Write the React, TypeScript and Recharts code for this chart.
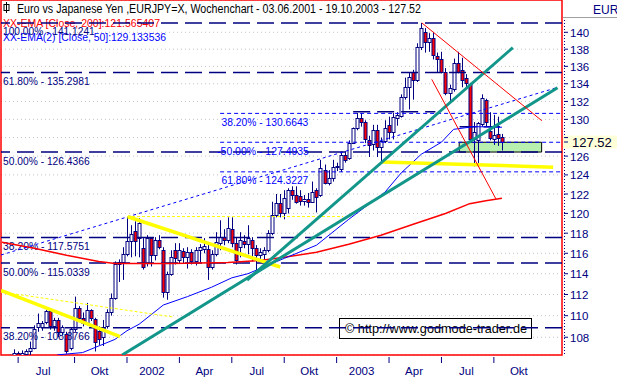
import React from 'react';
import {
  ComposedChart,
  Bar,
  Line,
  XAxis,
  YAxis,
  CartesianGrid,
  ReferenceLine,
  ReferenceArea,
} from 'recharts';

const NAVY = '#000080';
const BLUE = '#0000ff';
const RED = '#ff0000';
const TEAL = '#13968a';
const YELLOW = '#ffff00';
const FONT = '"Liberation Sans", Arial, sans-serif';

// EUR/JPY weekly candles from 03.06.2001: open, high, low, close
const ohlc: number[][] = [
  [105.5, 106.3, 104.8, 105.8], [105.8, 106.2, 104.9, 105.3], [105.3, 106.4, 104.7, 106.2],
  [106.2, 106.9, 105.6, 106.6], [106.6, 106.7, 105.4, 105.9], [105.9, 106.8, 105.6, 106.6],
  [106.5, 106.9, 105.9, 106.7], [106.7, 107.6, 106.1, 107.0], [107.0, 109.1, 106.9, 108.8],
  [108.9, 110.2, 108.5, 109.3], [108.9, 109.5, 108.6, 109.3], [109.4, 110.6, 109.2, 110.4],
  [110.4, 110.7, 108.7, 109.0], [109.0, 109.8, 108.6, 109.6], [109.6, 109.8, 108.0, 108.5],
  [108.5, 109.1, 108.2, 108.9], [108.3, 108.5, 106.5, 106.7], [107.0, 108.9, 106.8, 108.8],
  [108.8, 111.8, 108.5, 110.7], [110.7, 110.9, 109.6, 109.8], [109.8, 110.3, 109.0, 109.3],
  [109.3, 111.2, 109.1, 110.5], [110.5, 110.6, 109.5, 109.8], [109.7, 109.8, 106.7, 107.6],
  [108.6, 109.0, 107.3, 107.8], [108.0, 109.6, 107.2, 108.9], [109.0, 110.6, 108.8, 110.3],
  [110.3, 112.1, 110.0, 111.7], [111.7, 115.2, 111.5, 114.9], [114.9, 115.4, 113.2, 115.1],
  [115.1, 116.6, 113.4, 115.9], [115.9, 119.6, 115.7, 117.2], [117.2, 118.8, 115.6, 117.9],
  [118.2, 119.2, 115.7, 117.2], [117.5, 119.5, 115.6, 119.0], [116.5, 117.5, 114.4, 114.7],
  [115.0, 117.8, 114.7, 117.5], [117.5, 117.6, 114.7, 115.8], [115.8, 117.6, 115.3, 117.3],
  [117.3, 117.8, 116.4, 116.6], [116.3, 116.6, 111.7, 112.2], [112.2, 114.2, 111.5, 114.0],
  [114.0, 116.3, 113.8, 115.6], [116.3, 117.0, 114.9, 115.5], [115.3, 117.0, 115.0, 116.3],
  [116.2, 116.5, 115.0, 115.6], [115.6, 116.6, 114.5, 116.1], [116.1, 116.4, 114.9, 115.2],
  [115.2, 116.6, 114.8, 116.3], [116.3, 116.9, 115.1, 116.6], [116.4, 117.5, 116.0, 116.7],
  [116.4, 117.1, 113.4, 114.7], [114.7, 116.3, 114.4, 115.9], [115.9, 118.1, 115.7, 117.1],
  [117.0, 119.3, 116.3, 117.6], [117.6, 118.4, 116.8, 117.3], [117.3, 119.6, 117.0, 118.5],
  [118.4, 119.6, 116.6, 117.0], [117.0, 117.6, 114.9, 115.3], [116.6, 118.1, 115.6, 117.3],
  [117.2, 117.8, 116.5, 116.9], [116.9, 118.8, 115.9, 117.5], [117.3, 117.6, 115.2, 116.5],
  [116.5, 116.8, 114.2, 115.8], [115.8, 116.5, 115.3, 116.1], [115.9, 116.6, 115.2, 116.3],
  [116.3, 118.3, 116.1, 118.0], [118.0, 121.2, 117.8, 119.8], [119.8, 122.0, 119.6, 121.1],
  [121.1, 122.0, 119.6, 120.0], [120.0, 122.4, 119.4, 121.6], [120.6, 122.6, 120.0, 122.4],
  [122.4, 122.8, 121.4, 121.9], [121.9, 122.8, 121.0, 121.2], [121.8, 122.4, 120.8, 121.3],
  [121.3, 121.9, 120.8, 121.5], [121.5, 122.1, 120.6, 121.2], [121.2, 123.3, 121.1, 122.2],
  [122.4, 122.6, 120.1, 121.7], [121.9, 125.6, 121.7, 124.7], [124.5, 125.1, 123.0, 123.2],
  [123.2, 124.5, 122.9, 123.7], [123.7, 125.6, 123.3, 124.8], [124.8, 125.3, 124.4, 124.9],
  [124.6, 126.5, 124.3, 126.1], [126.1, 126.5, 125.3, 125.6], [125.8, 127.7, 125.6, 127.4],
  [127.4, 129.1, 127.3, 129.0], [129.0, 130.7, 128.8, 130.1], [130.1, 130.7, 129.2, 129.7],
  [129.7, 129.9, 127.4, 127.8], [127.7, 128.2, 125.9, 127.2], [127.3, 129.4, 126.6, 128.8],
  [128.8, 129.4, 125.9, 127.0], [127.0, 128.0, 125.4, 127.6], [127.6, 129.9, 127.4, 129.0],
  [129.4, 130.3, 127.8, 128.6], [128.6, 130.7, 127.8, 130.3], [130.2, 130.8, 129.3, 130.5],
  [130.4, 132.8, 130.2, 132.5], [132.5, 134.7, 132.2, 133.6], [133.6, 135.3, 131.1, 134.8],
  [135.4, 135.6, 132.2, 134.4], [134.4, 138.7, 134.2, 138.3], [138.3, 141.1, 137.9, 140.5],
  [140.0, 140.5, 137.6, 138.8], [138.8, 139.9, 137.7, 139.3], [139.3, 140.0, 136.8, 137.3],
  [137.2, 137.6, 135.3, 136.8], [136.8, 137.7, 135.2, 135.3], [135.4, 135.8, 132.7, 133.0],
  [133.0, 133.9, 132.0, 133.5], [133.4, 136.9, 133.1, 136.4], [136.4, 137.7, 135.2, 135.4],
  [135.6, 137.0, 133.6, 134.4], [134.7, 135.1, 133.5, 134.1], [134.0, 134.1, 127.5, 127.8],
  [127.8, 129.7, 124.9, 128.6], [127.7, 129.7, 125.1, 129.6], [129.5, 132.8, 129.2, 132.4],
  [132.2, 132.3, 129.2, 129.7], [128.7, 130.8, 127.7, 128.0], [127.9, 130.5, 127.2, 128.3],
  [128.4, 130.3, 127.1, 128.0], [128.1, 128.4, 126.6, 127.52],
];

// first weekly bar of each quarter
const quarterWeeks = [4, 18, 31, 44, 57, 70, 83, 96, 109, 122];
const quarterLabels = ['Jul', 'Okt', '2002', 'Apr', 'Jul', 'Okt', '2003', 'Apr', 'Jul', 'Okt'];
const priceTicks = [108, 110, 112, 114, 116, 118, 120, 122, 124, 126, 128, 130, 132, 134, 136, 138, 140];

// [week, value]
const ema200 = [
  [0, 117.1], [8, 116.5], [16, 115.8], [24, 115.2], [28, 115.0], [42, 115.0], [56, 115.1],
  [64, 115.3], [70, 115.6], [78, 116.1], [86, 116.9], [94, 117.8], [102, 118.9], [110, 120.0],
  [116, 121.0], [120, 121.3], [124, 121.57],
];
const ema50 = [
  [10, 105.9], [14, 106.4], [20, 106.6], [24, 107.2], [28, 107.8], [31, 108.6], [34, 109.2],
  [40, 111.0], [46, 111.8], [52, 112.7], [57, 113.6], [61, 114.0], [70, 115.5], [78, 116.8],
  [86, 119.4], [95, 122.2], [99, 124.2], [104, 126.2], [109, 127.5], [112, 128.9], [117, 129.2],
  [124, 129.13],
];

const fibNavy = [
  { text: '100.00% - 141.1241', v: 141.1241 },
  { text: '61.80% - 135.2981', v: 135.2981 },
  { text: '50.00% - 126.4366', v: 126.4366 },
  { text: '38.20% - 117.5751', v: 117.5751 },
  { text: '50.00% - 115.0339', v: 115.0339 },
  { text: '38.20% - 108.8766', v: 108.8766 },
];
const fibBlue = [
  { text: '38.20% - 130.6643', v: 130.6643 },
  { text: '-50.00% - 127.4935', v: 127.4935 },
  { text: '61.80% - 124.3227', v: 124.3227 },
];
const fibBlueFrom = 54.1;

// trend lines, [[week, price], [week, price]]
const tealTrends = [
  [[29.8, 106.38], [137.8, 133.55]],
  [[60.8, 113.39], [126.7, 138.18]],
];
const yellowTrends = [
  [[-0.25, 112.39], [29.3, 108.05]],
  [[31.2, 119.66], [69.0, 114.65]],
  [[94.3, 125.37], [136.7, 124.82]],
];
const yellowDotted = [
  [[-0.25, 112.24], [42.4, 109.88]],
  [[31.0, 119.68], [84.6, 119.68]],
];
const redTrends = [
  [[104.1, 141.14], [133.9, 129.85]],
  [[106.6, 134.5], [122.5, 121.5]],
];
const blueTrend = [[-0.25, 115.83], [137.9, 133.6]];
const navyMarks = [
  [[87.1, 130.85], [107.5, 130.85]],
  [[113.5, 129.2], [123.5, 129.2]],
];
const supportZone = { x1: 113.4, x2: 133.85, y1: 126.4366, y2: 127.4935 };
const lastClose = 127.52;
const xDomain = [-0.25, 138.9];
const yDomain = [106.38, 143.9];

const candles = ohlc.map(([o, h, l, c], w) => ({ w, o, h, l, c }));
const ema200Data = ema200.map(([w, v]) => ({ w, v }));
const ema50Data = ema50.map(([w, v]) => ({ w, v }));
const seg = (s: number[][]) => [
  { x: s[0][0], y: s[0][1] },
  { x: s[1][0], y: s[1][1] },
];

function Candle(props: any) {
  const { x, y, width, height, payload } = props;
  if (!payload) return null;
  const { o, h, l, c } = payload;
  const yTop = Math.min(y, y + height);
  const yBot = Math.max(y, y + height);
  const span = Math.log(h) - Math.log(l);
  const yAt = (v: number) => (span > 0 ? yTop + ((yBot - yTop) * (Math.log(h) - Math.log(v))) / span : yTop);
  const cx = Math.round(x + width / 2) + 0.5;
  const top = Math.round(yAt(Math.max(o, c))) + 0.5;
  const bot = Math.round(yAt(Math.min(o, c))) + 0.5;
  return (
    <g>
      <line x1={cx} x2={cx} y1={yTop} y2={yBot} stroke={NAVY} strokeWidth={1} />
      <rect
        x={cx - 1.5}
        y={top}
        width={3}
        height={Math.max(bot - top, 1)}
        fill={c >= o ? '#ffffff' : RED}
        stroke={NAVY}
        strokeWidth={1}
      />
    </g>
  );
}

function QuarterTick({ x, y, index }: any) {
  return (
    <g>
      <line x1={x} x2={x} y1={y + 2} y2={y + 8} stroke={NAVY} />
      <text x={x + 25} y={y + 20} textAnchor="middle" fontSize={11.5} fill={NAVY} fontFamily={FONT}>
        {quarterLabels[index]}
      </text>
    </g>
  );
}

function PriceTick({ x, y, payload }: any) {
  // the last-close box sits on top of the nearest tick label
  const hidden = Math.abs(payload.value - lastClose) < 1;
  return (
    <g>
      <line x1={x + 2} x2={x + 6} y1={y} y2={y} stroke={NAVY} />
      {!hidden && (
        <text x={x + 8} y={y + 4.5} fontSize={11.5} fill={NAVY} fontFamily={FONT}>
          {payload.value}
        </text>
      )}
    </g>
  );
}

const fibLabel = (text: string, color: string, dx: number) => (p: any) => {
  const vb = p.viewBox || { x: 0, y: 0 };
  return (
    <text
      x={vb.x + dx}
      y={vb.y + 12.5}
      fill={color}
      fontSize={11.5}
      fontFamily={FONT}
      textLength={text.length * 5.1}
      lengthAdjust="spacingAndGlyphs"
    >
      {text}
    </text>
  );
};

const priceLabel = (p: any) => {
  const { x, y, width } = p.viewBox;
  const left = x + width + 1;
  return (
    <g>
      <rect x={left} y={y - 6.5} width={55} height={13} fill="#ffffd8" />
      <line x1={left + 1} x2={left + 5} y1={y} y2={y} stroke={NAVY} />
      <text x={left + 9} y={y + 5} fontSize={13} fill="#000030" fontFamily={FONT}>
        {lastClose.toFixed(2)}
      </text>
    </g>
  );
};

export default function App() {
  return (
    <div style={{ position: 'fixed', left: 0, top: 0, background: '#fff' }}>
      <ComposedChart
        width={617}
        height={378}
        data={candles}
        margin={{ top: 0, right: 0, bottom: 0, left: 1 }}
        style={{ fontFamily: FONT }}
      >
        <CartesianGrid vertical={false} stroke="#c4c4c4" strokeDasharray="1 3" />
        <XAxis
          dataKey="w"
          type="number"
          domain={xDomain}
          allowDataOverflow
          ticks={quarterWeeks}
          interval={0}
          tick={<QuarterTick />}
          tickLine={false}
          axisLine={false}
          tickSize={0}
          tickMargin={0}
          height={23}
        />
        <YAxis
          orientation="right"
          type="number"
          scale="log"
          domain={yDomain}
          allowDataOverflow
          ticks={priceTicks}
          interval={0}
          tick={<PriceTick />}
          tickLine={false}
          axisLine={false}
          tickSize={0}
          tickMargin={0}
          width={55}
        />

        <ReferenceArea
          x1={supportZone.x1}
          x2={supportZone.x2}
          y1={supportZone.y1}
          y2={supportZone.y2}
          fill="#b8f0b0"
          fillOpacity={1}
          stroke="#000000"
          strokeWidth={1}
          ifOverflow="hidden"
        />

        {fibNavy.map((f) => (
          <ReferenceLine
            key={f.text}
            y={f.v}
            stroke={NAVY}
            strokeWidth={1.5}
            strokeDasharray="17 7"
            ifOverflow="hidden"
            label={fibLabel(f.text, NAVY, 2)}
          />
        ))}
        {fibBlue.map((f) => (
          <ReferenceLine
            key={f.text}
            segment={[{ x: fibBlueFrom, y: f.v }, { x: xDomain[1], y: f.v }]}
            stroke={BLUE}
            strokeDasharray="4 3"
            ifOverflow="hidden"
            label={fibLabel(f.text, BLUE, f.text.startsWith('-') ? -3 : 1.5)}
          />
        ))}
        {navyMarks.map((s, i) => (
          <ReferenceLine key={`n${i}`} segment={seg(s)} stroke={NAVY} strokeWidth={1.5} strokeDasharray="17 7" ifOverflow="hidden" />
        ))}

        <Bar dataKey={(d: any) => [d.l, d.h]} shape={<Candle />} barSize={4} isAnimationActive={false} />

        <Line data={ema200Data} dataKey="v" type="linear" stroke={RED} strokeWidth={1.5} dot={false} isAnimationActive={false} />
        <Line data={ema50Data} dataKey="v" type="linear" stroke={BLUE} strokeWidth={1} dot={false} isAnimationActive={false} />

        <ReferenceLine segment={seg(blueTrend)} stroke={BLUE} strokeDasharray="3 3" ifOverflow="hidden" />
        {yellowDotted.map((s, i) => (
          <ReferenceLine key={`yd${i}`} segment={seg(s)} stroke={YELLOW} strokeDasharray="3 2" ifOverflow="hidden" />
        ))}
        {yellowTrends.map((s, i) => (
          <ReferenceLine key={`y${i}`} segment={seg(s)} stroke={YELLOW} strokeWidth={3.5} ifOverflow="hidden" />
        ))}
        {tealTrends.map((s, i) => (
          <ReferenceLine key={`t${i}`} segment={seg(s)} stroke={TEAL} strokeWidth={3} ifOverflow="hidden" />
        ))}
        {redTrends.map((s, i) => (
          <ReferenceLine key={`r${i}`} segment={seg(s)} stroke={RED} strokeWidth={1} ifOverflow="hidden" />
        ))}

        <ReferenceArea
          x1={xDomain[0]}
          x2={xDomain[1]}
          y1={yDomain[0]}
          y2={yDomain[1]}
          fill="none"
          stroke={RED}
          strokeWidth={1.5}
        />
        <ReferenceLine y={lastClose} stroke="none" ifOverflow="visible" label={priceLabel} />

        <line x1={564.5} x2={564.5} y1={20} y2={356} stroke={NAVY} strokeDasharray="1 2" />
        <line x1={563} x2={617} y1={17.5} y2={17.5} stroke="#a0a0a0" />
        <text x={593} y={14} fontSize={12} fill={NAVY} fontFamily={FONT}>EUR</text>

        <rect x={4} y={4.5} width={5} height={6} fill="#fff" stroke="#000" />
        <line x1={6.5} x2={6.5} y1={2} y2={13} stroke="#000" />
        <text x={17} y={13} fontSize={12} fill="#000" fontFamily={FONT} textLength={404} lengthAdjust="spacingAndGlyphs">
          Euro vs Japanese Yen ,EURJPY=X, Wochenchart - 03.06.2001 - 19.10.2003 - 127.52
        </text>
        <text x={3} y={27} fontSize={11.5} fill={RED} fontFamily={FONT} textLength={157} lengthAdjust="spacingAndGlyphs">
          XX-EMA [Close, 200]:121.565407
        </text>
        <text x={3} y={41} fontSize={11.5} fill={BLUE} fontFamily={FONT} textLength={163} lengthAdjust="spacingAndGlyphs">
          XX-EMA(2) [Close, 50]:129.133536
        </text>

        <rect x={339.5} y={318.5} width={192} height={20} fill="#fff" stroke="#000" />
        <text x={345} y={333} fontSize={12.5} fill="#000" fontFamily={FONT} textLength={182} lengthAdjust="spacingAndGlyphs">
          © http://www.godmode-trader.de
        </text>
      </ComposedChart>
    </div>
  );
}
